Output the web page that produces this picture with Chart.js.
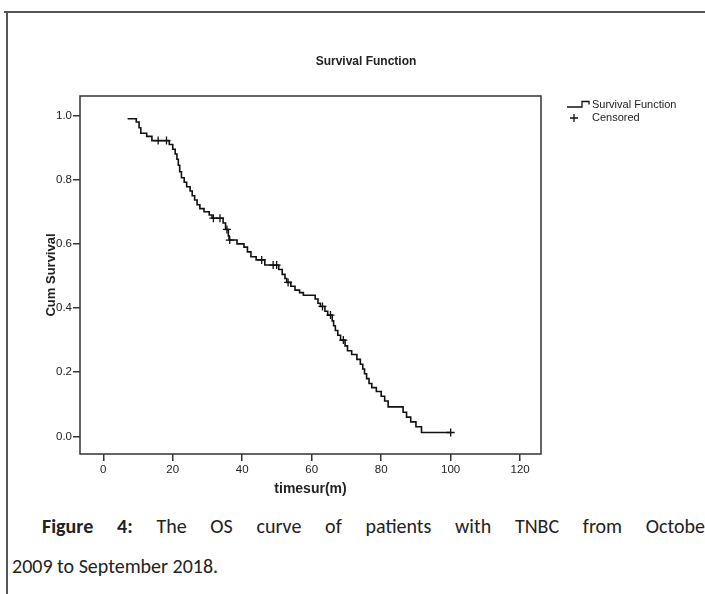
<!DOCTYPE html>
<html>
<head>
<meta charset="utf-8">
<script src="https://cdn.jsdelivr.net/npm/chart.js@4.4.1/dist/chart.umd.min.js"></script>
<style>
  html, body { margin: 0; padding: 0; background: #fff; }
  body { width: 705px; height: 594px; overflow: hidden; position: relative; }
  #chart { position: absolute; left: 0; top: 0; }
  .rule { position: absolute; background: #555; }
  .cap { position: absolute; font-family: Carlito, Lato, "Open Sans", sans-serif; font-size: 20px; color: #222; white-space: nowrap; }
  #cap1 { left: 42px; top: 514px; width: 670px; text-align: justify; text-align-last: justify; white-space: normal; }
  #cap2 { left: 12px; top: 554px; }
</style>
</head>
<body>
<div class="rule" style="left:4px; top:11px; width:701px; height:2px;"></div>
<div class="rule" style="left:6px; top:11px; width:2px; height:583px;"></div>
<canvas id="chart" width="705" height="500"></canvas>
<div class="cap" id="cap1"><b>Figure 4:</b> The OS curve of patients with TNBC from October</div>
<div class="cap" id="cap2">2009 to September 2018.</div>
<script>
const chartTitle = "Survival Function"
const xTitle = "timesur(m)"
const yTitle = "Cum Survival"
const xTicks = [0, 20, 40, 60, 80, 100, 120]
const yTicks = [0, 0.2, 0.4, 0.6, 0.8, 1.0]

// event times (months) and survival level after each drop
const eventTimes = [7, 9.5, 10.3, 10.8, 12.5, 14, 19, 20, 20.7, 21.2, 21.6, 22, 22.5, 23.3, 24, 25, 25.6, 26.3, 27, 27.8,
  29, 30.5, 31.3, 34.5, 35.2, 36, 36.2, 38.5, 40.5, 41.5, 42.5, 44, 46.5, 50.5, 51.5, 52.3, 52.8, 54, 55.2, 56.5,
  57.6, 61, 61.8, 62.5, 63.8, 64.6, 65.9, 66.3, 66.8, 67.5, 68.3, 69.6, 70.3, 71.5, 73, 74, 74.7, 75.2, 75.8, 76.5,
  77.3, 78.6, 80, 81, 82, 86.3, 87.3, 88.5, 90, 91.6, 100]
const survival = [0.990, 0.980, 0.962, 0.945, 0.935, 0.922, 0.910, 0.895, 0.880, 0.864, 0.845, 0.825, 0.806, 0.792, 0.778, 0.765, 0.750, 0.737, 0.722, 0.710,
  0.700, 0.690, 0.680, 0.665, 0.645, 0.625, 0.612, 0.600, 0.590, 0.575, 0.560, 0.550, 0.534, 0.520, 0.505, 0.492, 0.480, 0.468, 0.456, 0.448,
  0.440, 0.428, 0.415, 0.405, 0.390, 0.378, 0.360, 0.345, 0.330, 0.315, 0.300, 0.282, 0.267, 0.255, 0.240, 0.225, 0.210, 0.195, 0.180, 0.165,
  0.152, 0.140, 0.125, 0.110, 0.092, 0.075, 0.060, 0.045, 0.030, 0.012, 0.012]
const censorTimes = [15.8, 18.2, 31.7, 33.6, 35.6, 36.4, 45.6, 48.9, 49.9, 53.2, 63.1, 65.4, 69.1, 100]

const levelAt = function(t){
  let s = survival[0]
  for(let i = 0; i < eventTimes.length; i++){
    if(eventTimes[i] <= t) s = survival[i]
  }
  return s
}

const FONT = '"Liberation Sans", Arial, sans-serif'

const framePlugin = {
  id: "frame",
  afterDraw(chart){
    const ctx = chart.ctx
    const a = chart.chartArea
    ctx.save()
    ctx.strokeStyle = "#333"
    ctx.lineWidth = 1.5
    ctx.strokeRect(a.left, a.top, a.right - a.left, a.bottom - a.top)

    ctx.fillStyle = "#222"
    ctx.font = "bold 12px " + FONT
    ctx.textAlign = "center"
    ctx.textBaseline = "middle"
    ctx.fillText(chartTitle, 366, 62)

    // legend
    const lx = a.right + 26
    ctx.strokeStyle = "#111"
    ctx.lineWidth = 1.3
    ctx.beginPath()
    ctx.moveTo(lx, 107)
    ctx.lineTo(lx + 15, 107)
    ctx.lineTo(lx + 15, 101.5)
    ctx.lineTo(lx + 22, 101.5)
    ctx.lineTo(lx + 22, 104.5)
    ctx.moveTo(lx + 3, 118)
    ctx.lineTo(lx + 11, 118)
    ctx.moveTo(lx + 7, 114)
    ctx.lineTo(lx + 7, 122)
    ctx.stroke()

    ctx.font = "11px " + FONT
    ctx.textAlign = "left"
    ctx.fillText("Survival Function", lx + 25, 105)
    ctx.fillText("Censored", lx + 25, 118)
    ctx.restore()
  }
}

const tickFont = { family: FONT, size: 11.5 }

new Chart(document.getElementById("chart").getContext("2d"), {
  type: "scatter",
  data: {
    datasets: [{
      label: "Survival Function",
      data: eventTimes.map((t, i) => ({ x: t, y: survival[i] })),
      showLine: true,
      stepped: "before",
      borderColor: "#111",
      borderWidth: 1.6,
      pointRadius: 0,
      fill: false
    }, {
      label: "Censored",
      data: censorTimes.map(t => ({ x: t, y: levelAt(t) })),
      showLine: false,
      pointStyle: "cross",
      pointRadius: 4,
      borderColor: "#111",
      borderWidth: 1.3
    }]
  },
  options: {
    animation: false,
    responsive: false,
    layout: { padding: { left: 38, right: 164, top: 96, bottom: 2 } },
    plugins: {
      legend: { display: false },
      tooltip: { enabled: false },
      title: { display: false }
    },
    scales: {
      x: {
        type: "linear",
        min: -6.7,
        max: 126,
        afterBuildTicks: s => { s.ticks = xTicks.map(v => ({ value: v })) },
        afterFit: s => { s.height = 44 },
        border: { display: false },
        grid: { drawOnChartArea: false, drawTicks: true, tickLength: 7, color: "#333", lineWidth: 1.5 },
        ticks: { padding: 2, color: "#222", font: tickFont, maxRotation: 0 },
        title: { display: true, text: xTitle, color: "#222", font: { family: FONT, size: 14, weight: "bold" }, padding: 0 }
      },
      y: {
        type: "linear",
        min: -0.055,
        max: 1.061,
        afterBuildTicks: s => { s.ticks = yTicks.map(v => ({ value: v })) },
        afterFit: s => { s.width = 42 },
        border: { display: false },
        grid: { drawOnChartArea: false, drawTicks: true, tickLength: 7, color: "#333", lineWidth: 1.5 },
        ticks: { padding: 1, color: "#222", font: tickFont, callback: v => v.toFixed(1) },
        title: { display: true, text: yTitle, color: "#222", font: { family: FONT, size: 13, weight: "bold" }, padding: { top: 6, bottom: 0 } }
      }
    }
  },
  plugins: [framePlugin]
})
</script>
</body>
</html>
